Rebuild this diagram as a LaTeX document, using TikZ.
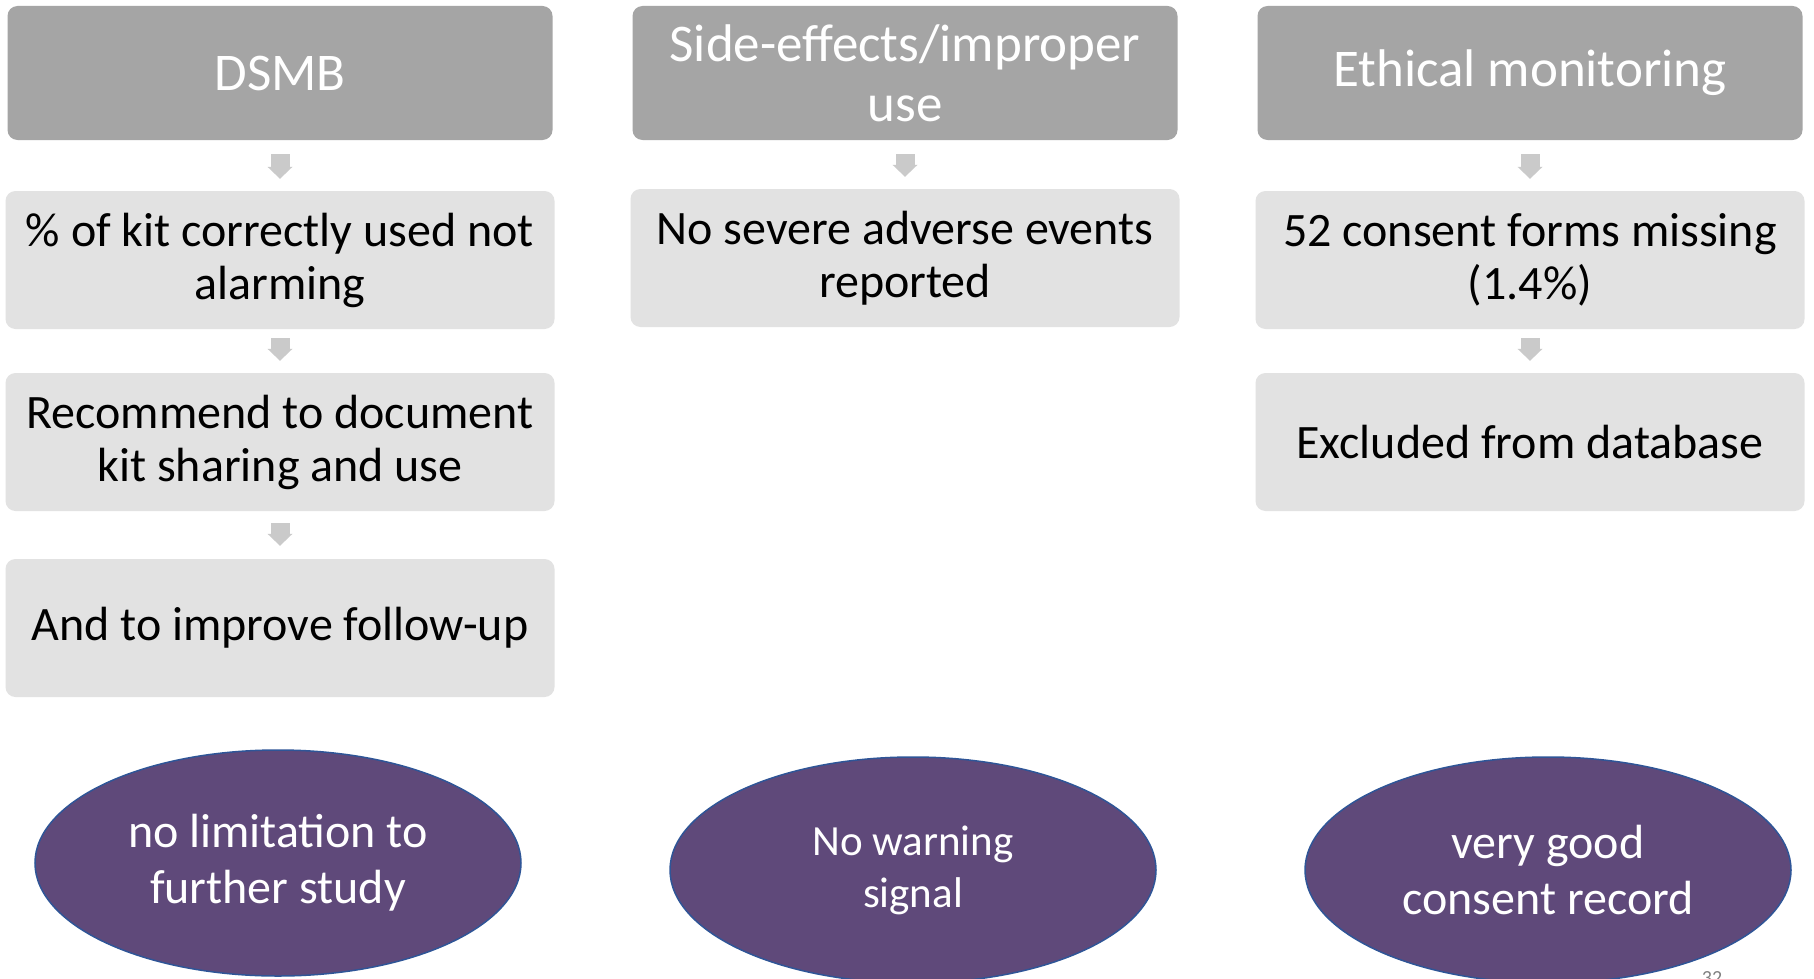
\documentclass[tikz,border=0pt]{standalone}
\usepackage{fontspec}
\setmainfont{Carlito}
\usetikzlibrary{shapes.geometric,arrows.meta,calc}
\definecolor{hdr}{HTML}{A5A5A5}
\definecolor{bod}{HTML}{E2E2E2}
\definecolor{arr}{HTML}{CACACA}
\definecolor{purp}{HTML}{5F497A}
\definecolor{edge}{HTML}{2F5597}
\begin{document}
\begin{tikzpicture}[x=1pt,y=-1pt,
  hbox/.style={fill=hdr,rounded corners=10pt,minimum width=545pt,minimum height=134pt,inner sep=0pt,text=white,align=center,font=\fontsize{53}{60}\selectfont},
  bbox/.style={fill=bod,rounded corners=10pt,minimum width=549pt,minimum height=138pt,inner sep=0pt,text=black,align=center,font=\fontsize{48}{53}\selectfont},
  oval/.style={ellipse,fill=purp,draw=edge,line width=1.5pt,minimum width=486pt,minimum height=226pt,inner sep=0pt,text=white,align=center},
  flow/.style={draw=arr,line width=19pt,-{Triangle[width=25pt,length=12pt,line width=0pt]}}
]
\useasboundingbox (0,0) rectangle (1814,979);
\clip (0,0) rectangle (1814,979);
\fill[white] (0,0) rectangle (1814,979);
% column 1
\node[hbox] (h1) at (280,73) {DSMB};
\node[bbox] (a1) at (280,260) {\% of kit correctly used not\\alarming};
\node[bbox] (a2) at (280,442) {Recommend to document\\kit sharing and use};
\node[bbox] (a3) at (280,628) {And to improve follow-up};
% column 2
\node[hbox] (h2) at (905,73) {Side-effects/improper\\use};
\node[bbox] (b1) at (905,258) {No severe adverse events\\reported};
% column 3
\node[hbox] (h3) at (1530,73) {Ethical monitoring};
\node[bbox] (c1) at (1530,260) {52 consent forms missing\\(1.4\%)};
\node[bbox] (c2) at (1530,442) {Excluded from database};
% arrows
\draw[flow] ($(h1.south)+(0,14)$) -- ($(a1.north)+(0,-12)$);
\draw[flow] ($(a1.south)+(0,9)$) -- ($(a2.north)+(0,-12)$);
\draw[flow] ($(a2.south)+(0,12)$) -- ($(a3.north)+(0,-13)$);
\draw[flow] ($(h2.south)+(0,14)$) -- ($(b1.north)+(0,-12)$);
\draw[flow] ($(h3.south)+(0,14)$) -- ($(c1.north)+(0,-12)$);
\draw[flow] ($(c1.south)+(0,9)$) -- ($(c2.north)+(0,-12)$);
% ovals
\node[oval,font=\fontsize{48}{56}\selectfont] (o1) at (278,863) {no limitation to\\further study};
\node[oval,font=\fontsize{43}{52}\selectfont] (o2) at (913,870) {No warning\\signal};
\node[oval,font=\fontsize{48}{56}\selectfont] (o3) at (1548,870) {very good\\consent record};
\node[text=gray,font=\fontsize{20}{24}\selectfont,anchor=north] (pg) at (1712,968) {32};
\end{tikzpicture}
\end{document}
